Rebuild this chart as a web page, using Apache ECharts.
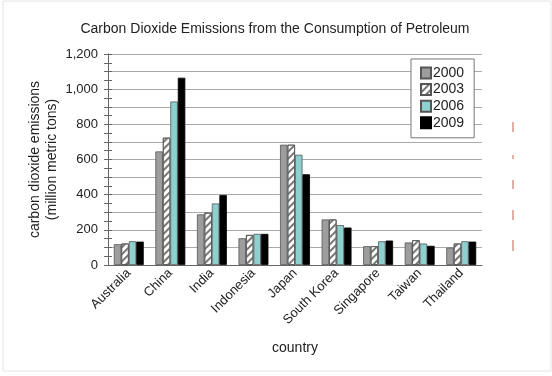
<!DOCTYPE html>
<html>
<head>
<meta charset="utf-8">
<script src="https://cdn.jsdelivr.net/npm/echarts@6/dist/echarts.min.js"></script>
<style>
	html, body { margin: 0; padding: 0; background: #fff; }
	#main { width: 552px; height: 376px; }
</style>
</head>
<body>
<div id="main"></div>
<script>
var countries = ['Australia', 'China', 'India', 'Indonesia', 'Japan', 'South Korea', 'Singapore', 'Taiwan', 'Thailand'];
var years = ['2000', '2003', '2006', '2009'];
var data2000 = [118, 646, 288, 152, 684, 259, 107, 128, 99];
var data2003 = [122, 724, 297, 171, 684, 259, 107, 141, 122];
var data2006 = [135, 930, 350, 177, 627, 227, 135, 122, 135];
var data2009 = [133, 1065, 398, 177, 516, 213, 139, 109, 133];

var chart = echarts.init(document.getElementById('main'));
var font = 'Liberation Sans, Arial, sans-serif';
var axisColor = '#666';

function makeSeries(name, values, style) {
	return {
		name: name,
		type: 'bar',
		data: values,
		barGap: '0%',
		barCategoryGap: '28%',
		itemStyle: style
	};
}

var option = {
	animation: false,
	textStyle: { fontFamily: font },
	title: {
		text: 'Carbon Dioxide Emissions from the Consumption of Petroleum',
		left: 270,
		textAlign: 'center',
		top: 17,
		textStyle: { fontSize: 14, fontWeight: 'normal', color: '#222', fontFamily: font }
	},
	legend: {
		orient: 'vertical',
		left: 411,
		top: 59,
		data: years,
		itemWidth: 10,
		itemHeight: 11,
		itemGap: 2.6,
		padding: [7, 10, 8, 9],
		backgroundColor: '#fff',
		borderColor: '#777',
		borderWidth: 1,
		icon: 'rect',
		textStyle: { fontSize: 14, color: '#222', padding: [0, 0, 0, -3] }
	},
	grid: { left: 108, right: 70, top: 54, bottom: 111 },
	xAxis: [{
		type: 'category',
		data: countries,
		name: 'country',
		nameLocation: 'middle',
		nameGap: 76,
		nameTextStyle: { fontSize: 14, color: '#222' },
		axisLine: { lineStyle: { color: axisColor } },
		axisTick: { length: 4, lineStyle: { color: axisColor } },
		axisLabel: { rotate: 45, fontSize: 13, color: '#222', margin: 6, interval: 0 }
	}, {
		type: 'category',
		data: countries,
		position: 'bottom',
		axisLine: { show: false },
		axisTick: { inside: true, length: 4, lineStyle: { color: axisColor } },
		axisLabel: { show: false }
	}],
	yAxis: [{
		type: 'value',
		min: 0,
		max: 1200,
		interval: 100,
		name: 'carbon dioxide emissions\n(million metric tons)',
		nameLocation: 'middle',
		nameGap: 47,
		nameMoveOverlap: false,
		nameTextStyle: { fontSize: 14, color: '#222', lineHeight: 17 },
		axisLine: { show: true, lineStyle: { color: axisColor } },
		axisTick: { show: true, length: 4, lineStyle: { color: axisColor } },
		minorTick: { show: true, splitNumber: 2, length: 4, lineStyle: { color: axisColor } },
		splitLine: { lineStyle: { color: '#aaa' } },
		axisLabel: {
			fontSize: 13,
			color: '#222',
			margin: 10,
			formatter: function (v) {
				if (v % 200 !== 0) return '';
				return v.toLocaleString('en-US');
			}
		}
	}, {
		type: 'value',
		min: 0,
		max: 1200,
		interval: 100,
		position: 'left',
		axisLine: { show: false },
		axisTick: { show: true, inside: true, length: 4, lineStyle: { color: axisColor } },
		minorTick: { show: true, splitNumber: 2, length: 4, lineStyle: { color: axisColor } },
		splitLine: { show: false },
		axisLabel: { show: false }
	}],
	series: [
		makeSeries('2000', data2000, { color: '#9d9d9d', borderColor: '#555', borderWidth: 0.8 }),
		makeSeries('2003', data2003, {
			color: '#fff', borderColor: '#555', borderWidth: 0.8,
			decal: { symbol: 'rect', color: '#777', dashArrayX: [1, 0], dashArrayY: [1.5, 3], rotation: -Math.PI / 4, symbolSize: 1 }
		}),
		makeSeries('2006', data2006, { color: '#8ecfcf', borderColor: '#555', borderWidth: 0.8 }),
		makeSeries('2009', data2009, { color: '#000', borderColor: '#000', borderWidth: 0.8 })
	],
	graphic: [
		{ type: 'rect', shape: { x: 3, y: 1, width: 548, height: 370 }, style: { fill: 'none', stroke: '#e4e4e4', lineWidth: 1 } },
		{ type: 'line', shape: { x1: 513, y1: 122, x2: 513, y2: 132 }, style: { stroke: '#c0604a', lineWidth: 1 } },
		{ type: 'line', shape: { x1: 513, y1: 155, x2: 513, y2: 159 }, style: { stroke: '#c0604a', lineWidth: 1 } },
		{ type: 'line', shape: { x1: 513, y1: 180, x2: 513, y2: 189 }, style: { stroke: '#c0604a', lineWidth: 1 } },
		{ type: 'line', shape: { x1: 513, y1: 210, x2: 513, y2: 220 }, style: { stroke: '#c0604a', lineWidth: 1 } },
		{ type: 'line', shape: { x1: 513, y1: 240, x2: 513, y2: 251 }, style: { stroke: '#c0604a', lineWidth: 1 } }
	]
};

chart.setOption(option);
</script>
</body>
</html>
